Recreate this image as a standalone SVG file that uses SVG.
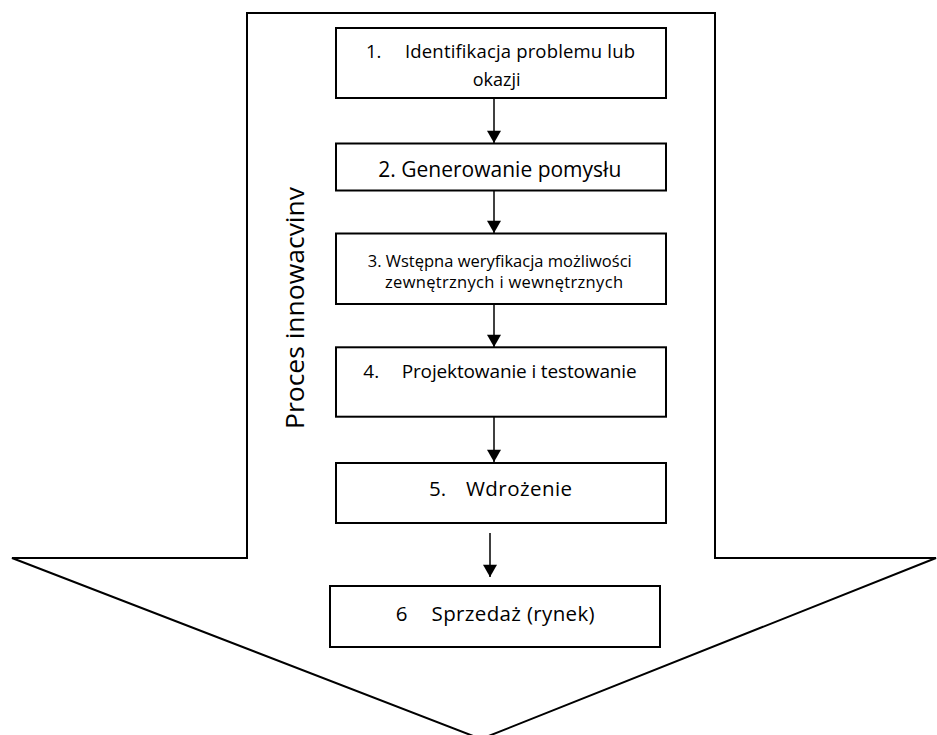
<svg xmlns="http://www.w3.org/2000/svg" width="937" height="735" viewBox="0 0 937 735">
<style>
.box{fill:#fff;stroke:#000;stroke-width:2}
.outer{fill:#fff;stroke:#000;stroke-width:2;stroke-linejoin:miter}
.t{font-family:"Open Sans","Liberation Sans",sans-serif;fill:#000}
.con{stroke:#000;stroke-width:1.5;fill:none}
</style>
<defs>
<marker id="ah" viewBox="0 0 14 16" refX="14" refY="8" markerWidth="16" markerHeight="14" markerUnits="userSpaceOnUse" orient="auto">
<path d="M0,0 L14,8 L0,16 Z" fill="#000"/>
</marker>
</defs>
<g id="big-arrow">
<polygon class="outer" points="247,13 715,13 715,558 936,558 481,739 12,558 247,558"/>
<text class="t" font-size="25" textLength="242" lengthAdjust="spacingAndGlyphs" transform="translate(303.5,429) rotate(-90)">Proces innowacvinv</text>
</g>
<g id="connectors">
<line class="con" x1="494" y1="99" x2="494" y2="143" marker-end="url(#ah)"/>
<line class="con" x1="494" y1="191" x2="494" y2="233" marker-end="url(#ah)"/>
<line class="con" x1="494" y1="304" x2="494" y2="347" marker-end="url(#ah)"/>
<line class="con" x1="494" y1="417" x2="494" y2="462" marker-end="url(#ah)"/>
<line class="con" x1="490" y1="533" x2="490" y2="577" marker-end="url(#ah)"/>
</g>
<g id="n1">
<rect class="box" x="336" y="28" width="330" height="70"/>
<text class="t" font-size="18.5" x="366" y="58">1.</text>
<text class="t" font-size="18.5" x="405" y="58" textLength="230">Identifikacja problemu lub</text>
<text class="t" font-size="18" x="496.7" y="86" text-anchor="middle">okazji</text>
</g>
<g id="n2">
<rect class="box" x="336" y="143.5" width="330" height="47"/>
<text class="t" font-size="21" x="378.3" y="177.3" textLength="243">2. Generowanie pomysłu</text>
</g>
<g id="n3">
<rect class="box" x="336" y="233.5" width="330" height="70.5"/>
<text class="t" font-size="16.5" x="367.7" y="267" textLength="264">3. Wstępna weryfikacja możliwości</text>
<text class="t" font-size="16.5" x="385" y="288.3" textLength="238">zewnętrznych i wewnętrznych</text>
</g>
<g id="n4">
<rect class="box" x="336" y="347.3" width="330" height="69.4"/>
<text class="t" font-size="19" x="363.3" y="378.3">4.</text>
<text class="t" font-size="19" x="401.7" y="378.3" textLength="235">Projektowanie i testowanie</text>
</g>
<g id="n5">
<rect class="box" x="336" y="463" width="330" height="60"/>
<text class="t" font-size="20.5" x="429" y="496">5.</text>
<text class="t" font-size="20.5" x="466" y="496" textLength="106">Wdrożenie</text>
</g>
<g id="n6">
<rect class="box" x="330" y="586" width="330" height="61"/>
<text class="t" font-size="20.5" x="395.7" y="620.7">6</text>
<text class="t" font-size="20.5" x="431.6" y="620.7" textLength="163">Sprzedaż (rynek)</text>
</g>
</svg>
